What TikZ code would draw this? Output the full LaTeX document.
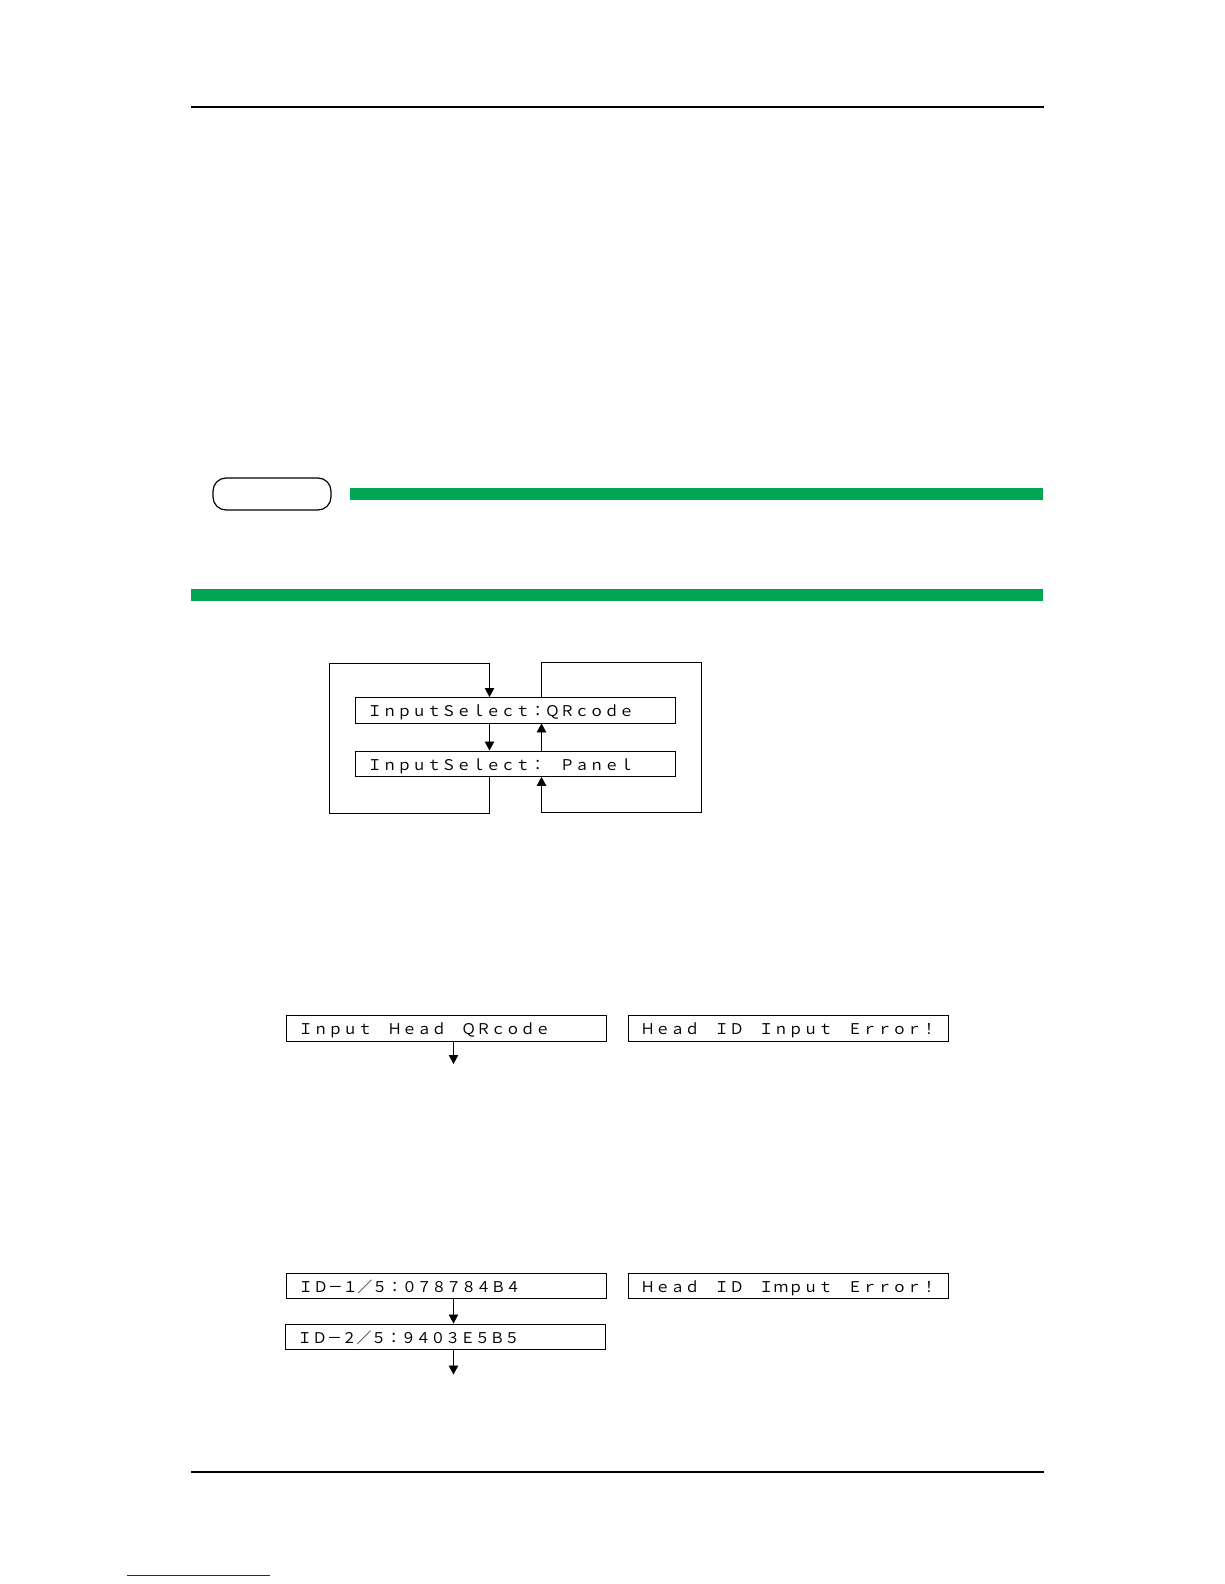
\documentclass[tikz,border=0pt]{standalone}
\usepackage{fontspec}
\newfontfamily\cjk{Noto Sans CJK JP}
\usetikzlibrary{arrows.meta}
\definecolor{mgreen}{RGB}{0,166,81}
\definecolor{mblue}{RGB}{25,25,170}
\begin{document}
\begin{tikzpicture}[x=1pt,y=-1pt,
  lcd/.style={draw, line width=0.9pt, minimum height=25.5pt, text width=296pt,
    inner xsep=12pt, inner ysep=0pt, align=left,
    font=\cjk\fontsize{14.8}{18}\selectfont, text height=13pt, text depth=0pt,
    anchor=north west},
  arr/.style={-{Triangle[length=9pt,width=9.5pt]}, line width=0.8pt},
  rule/.style={line width=2pt},
  gbar/.style={fill=mgreen}]
\useasboundingbox (0,0) rectangle (1224,1584);
% page rules
\draw[rule] (191,107) -- (1044,107);
\draw[rule] (191,1471.5) -- (1044,1471.5);
\draw[mblue, line width=1pt] (127,1575) -- (270,1575);
% tag and green bars
\node[draw, rounded corners=13pt, minimum width=118pt, minimum height=32pt, line width=1.2pt] (tag) at (272,494) {};
\fill[gbar] (350,488) rectangle (1043,500);
\fill[gbar] (191,589) rectangle (1043,601);
% diagram 1
\node[lcd] (qr) at (355,697) {ＩｎｐｕｔＳｅｌｅｃｔ：ＱＲｃｏｄｅ};
\node[lcd] (pn) at (355,750.5) {ＩｎｐｕｔＳｅｌｅｃｔ：　Ｐａｎｅｌ};
\coordinate (xl) at (489.5,663.5);
\coordinate (ll) at (329,813);
\coordinate (xr) at (541.5,662.5);
\coordinate (rr) at (701.5,812);
\draw[arr] (qr.south -| xl) -- (pn.north -| xl);
\draw[arr] (pn.north -| xr) -- (qr.south -| xr);
\draw[arr] (pn.south -| xl) |- (ll) |- (xl) -- (qr.north -| xl);
\draw[arr] (qr.north -| xr) -- (xr) -| (rr) -| (pn.south -| xr);
% diagram 2
\node[lcd] (ihq) at (286,1015) {Ｉｎｐｕｔ　Ｈｅａｄ　ＱＲｃｏｄｅ};
\node[lcd] (err1) at (628,1015) {Ｈｅａｄ　ＩＤ　Ｉｎｐｕｔ　Ｅｒｒｏｒ！};
\coordinate (e1) at (453.5,1064);
\draw[arr] (ihq.south -| e1) -- (e1);
% diagram 3
\node[lcd] (id1) at (286,1272.5) {ＩＤ－１／５：０７８７８４Ｂ４};
\node[lcd] (id2) at (285,1323.5) {ＩＤ－２／５：９４０３Ｅ５Ｂ５};
\node[lcd] (err2) at (628,1272.5) {Ｈｅａｄ　ＩＤ　Ｉｍｐｕｔ　Ｅｒｒｏｒ！};
\coordinate (e2) at (453.5,1374.5);
\draw[arr] (id1.south -| e2) -- (id2.north -| e2);
\draw[arr] (id2.south -| e2) -- (e2);
\end{tikzpicture}
\end{document}
